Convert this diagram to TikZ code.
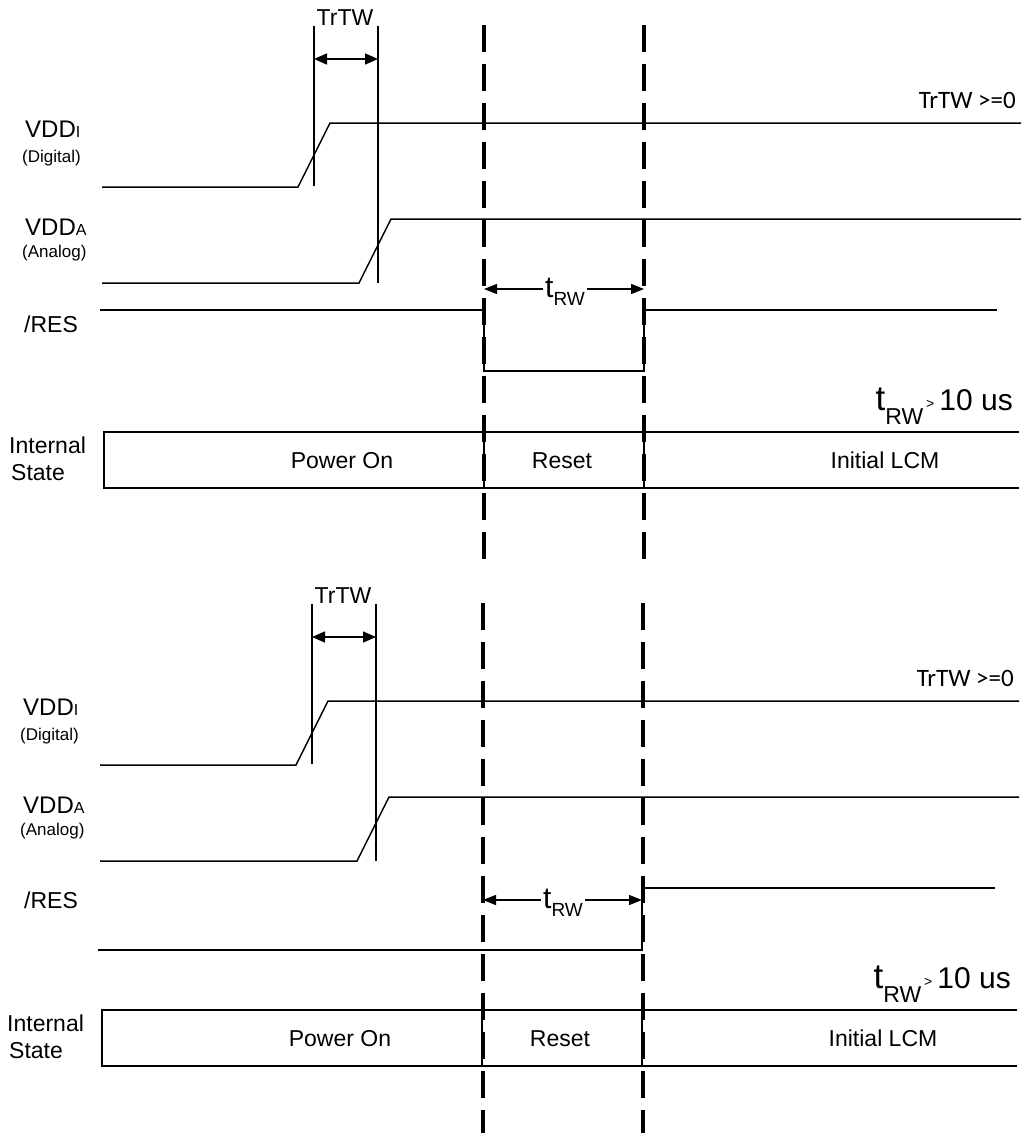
\documentclass[tikz,border=0pt]{standalone}
\usepackage{fontspec}
\setmainfont{Liberation Sans}
\newfontfamily\calibfont{Carlito}
\usetikzlibrary{arrows.meta}
\tikzset{
  sig/.style={line width=1.5pt},
  guide/.style={line width=1.5pt},
  boxline/.style={line width=1.5pt},
  sepline/.style={line width=3.2pt, dash pattern=on 27pt off 12pt},
  dimarrow/.style={line width=1.5pt, {Triangle[length=13pt,width=11pt]}-{Triangle[length=13pt,width=11pt]}},
  rwarrow/.style={line width=1.5pt, {Triangle[length=13pt,width=10pt]}-{Triangle[length=13pt,width=10pt]}},
  txt/.style={inner sep=0pt, font=\fontsize{23}{27}\selectfont},
}
\newcommand\fs[1]{\fontsize{#1}{#1}\selectfont}
\newcommand\commonpart{%
  \node[txt, anchor=base west] (vddi) at (25,137) {\fs{24}VDD\fs{16}I};
  \node[txt, anchor=base west] (dig) at (22,162) {\fs{17}(Digital)};
  \node[txt, anchor=base west] (vdda) at (25,235) {\fs{24}VDD\fs{16}A};
  \node[txt, anchor=base west] (ana) at (22,257) {\fs{17}(Analog)};
  \node[txt, anchor=base west] (int) at (9,453) {Internal};
  \node[txt, anchor=base west] (sta) at (11,480) {State};
  \draw[sig] (102,187) -- (298,187) -- (330,123) -- (1021,123);
  \draw[sig] (102,283) -- (359,283) -- (391,219) -- (1021,219);
  \coordinate (g1t) at (314,26); \coordinate (g1b) at (314,186);
  \coordinate (g2t) at (378,26); \coordinate (g2b) at (378,283);
  \draw[guide] (g1t) -- (g1b);
  \draw[guide] (g2t) -- (g2b);
  \coordinate (d1) at (314,59); \coordinate (d2) at (378,59);
  \draw[dimarrow] (d1) -- (d2);
  \node[txt, anchor=base] (trtw) at (345,25) {TrTW};
  \node[txt, anchor=base east] (cond) at (1016,108) {\calibfont\fs{25}TrTW >=0};
  \draw[boxline] (1019,432) -- (104,432) -- (104,488) -- (1019,488);
  \draw[boxline] (484,432) -- (484,488) (644,432) -- (644,488);
  \node[txt, anchor=base] (pon) at (342,468) {Power On};
  \node[txt, anchor=base] (rst) at (562,468) {Reset};
  \node[txt, anchor=base] (ilcm) at (885,468) {Initial LCM};
  \node[txt, anchor=base east] (rule) at (1013,410)
    {{\fs{35}t}\raisebox{-14pt}{\fs{23}RW}\hspace{3pt}\raisebox{2pt}{\fs{14}>}\hspace{5pt}{\fs{30}10 us}};
}
\begin{document}
\begin{tikzpicture}[x=1pt,y=-1pt]
  \fill[white] (0,0) rectangle (1021,1133);
  \useasboundingbox (0,0) rectangle (1021,1133);
  % top diagram
  \begin{scope}[name prefix=top-]
    \commonpart
  \end{scope}
  \node[txt, anchor=base west] (res1) at (24,332) {/RES};
  \draw[sig] (100,310) -- (484,310) -- (484,371) -- (644,371) -- (644,310) -- (997,310);
  \coordinate (a1) at (484,289); \coordinate (a2) at (644,289);
  \draw[rwarrow] (a1) -- (a2);
  \node[fill=white, inner sep=2pt, anchor=base] (trw1) at (565,297) {\fs{30}t\raisebox{-8pt}{\fs{19}RW}};
  % bottom diagram
  \begin{scope}[shift={(-2,578)}, name prefix=bot-]
    \commonpart
  \end{scope}
  \node[txt, anchor=base west] (res2) at (24,908) {/RES};
  \draw[sig] (98,950) -- (642,950) -- (642,888) -- (995,888);
  \coordinate (b1) at (483,900); \coordinate (b2) at (642,900);
  \draw[rwarrow] (b1) -- (b2);
  \node[fill=white, inner sep=2pt, anchor=base] (trw2) at (563,908) {\fs{30}t\raisebox{-8pt}{\fs{19}RW}};
  % separators
  \coordinate (s1t) at (484,25); \coordinate (s1b) at (484,560);
  \coordinate (s2t) at (644,25); \coordinate (s2b) at (644,560);
  \coordinate (s3t) at (483,603); \coordinate (s3b) at (483,1133);
  \coordinate (s4t) at (643,603); \coordinate (s4b) at (643,1133);
  \draw[sepline] (s1t) -- (s1b);
  \draw[sepline] (s2t) -- (s2b);
  \draw[sepline] (s3t) -- (s3b);
  \draw[sepline] (s4t) -- (s4b);
\end{tikzpicture}
\end{document}
